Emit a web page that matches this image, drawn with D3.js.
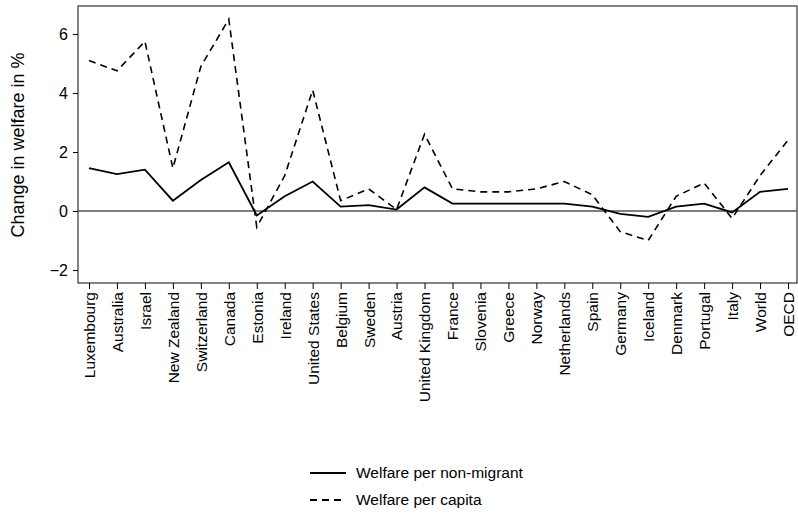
<!DOCTYPE html>
<html><head><meta charset="utf-8">
<script src="https://cdn.jsdelivr.net/npm/d3@7"></script>
<style>body{margin:0;background:#fff;font-family:"Liberation Sans",Arial,sans-serif}</style>
</head><body><svg id="c" width="798" height="516"></svg>
<script>
const countries = ['Luxembourg','Australia','Israel','New Zealand','Switzerland','Canada','Estonia','Ireland','United States','Belgium','Sweden','Austria','United Kingdom','France','Slovenia','Greece','Norway','Netherlands','Spain','Germany','Iceland','Denmark','Portugal','Italy','World','OECD'];
const perNonMigrant = [1.45,1.25,1.4,0.35,1.05,1.65,-0.15,0.5,1.0,0.15,0.2,0.05,0.8,0.25,0.25,0.25,0.25,0.25,0.15,-0.1,-0.2,0.15,0.25,-0.05,0.65,0.75];
const perCapita = [5.1,4.75,5.75,1.45,4.9,6.5,-0.55,1.2,4.1,0.35,0.75,0.05,2.6,0.75,0.65,0.65,0.75,1.0,0.55,-0.7,-1.0,0.5,0.95,-0.25,1.2,2.4];
const yTicks = [-2,0,2,4,6];

const svg = d3.select('#c');
const pLeft = 78, pRight = 797, pTop = 6, pBottom = 283;
const x = d3.scalePoint().domain(countries).range([89, 788]);
const y = d3.scaleLinear().domain([-2, 6]).range([270, 34]);

svg.append('rect').attr('x', pLeft).attr('y', pTop).attr('width', pRight - pLeft).attr('height', pBottom - pTop)
  .attr('fill', 'none').attr('stroke', '#333').attr('stroke-width', 1.2);

svg.append('line').attr('x1', pLeft).attr('x2', pRight).attr('y1', y(0)).attr('y2', y(0))
  .attr('stroke', '#555').attr('stroke-width', 1.5);

const ya = svg.append('g').attr('transform', `translate(${pLeft},0)`)
  .call(d3.axisLeft(y).tickValues(yTicks).tickSize(5).tickPadding(5));
ya.select('.domain').remove();
ya.selectAll('text').attr('font-size', 16).attr('font-family', 'Liberation Sans, Arial').attr('fill', '#000');

const xa = svg.append('g').attr('transform', `translate(0,${pBottom})`)
  .call(d3.axisBottom(x).tickSize(6).tickPadding(4));
xa.select('.domain').remove();
xa.selectAll('text').attr('font-size', 15.5).attr('font-family', 'Liberation Sans, Arial').attr('fill', '#000')
  .attr('transform', 'rotate(-90)').attr('text-anchor', 'end').attr('y', 0).attr('x', -9).attr('dy', '0.35em');

svg.append('text').attr('transform', 'translate(24,145) rotate(-90)').attr('text-anchor', 'middle')
  .attr('font-size', 18).text('Change in welfare in %');

const line = d3.line().x((d, i) => x(countries[i])).y(d => y(d));
svg.append('path').attr('d', line(perNonMigrant)).attr('fill', 'none').attr('stroke', '#000').attr('stroke-width', 1.8);
svg.append('path').attr('d', line(perCapita)).attr('fill', 'none').attr('stroke', '#000').attr('stroke-width', 1.6)
  .attr('stroke-dasharray', '7,5');

const legend = [['Welfare per non-migrant', null], ['Welfare per capita', '7,5']];
legend.forEach(([label, dash], i) => {
  const ly = 473 + i * 27;
  svg.append('line').attr('x1', 310).attr('x2', 346).attr('y1', ly).attr('y2', ly)
    .attr('stroke', '#000').attr('stroke-width', 1.8).attr('stroke-dasharray', dash);
  svg.append('text').attr('x', 356).attr('y', ly + 5).attr('font-size', 15.5).text(label);
});
</script></body></html>
